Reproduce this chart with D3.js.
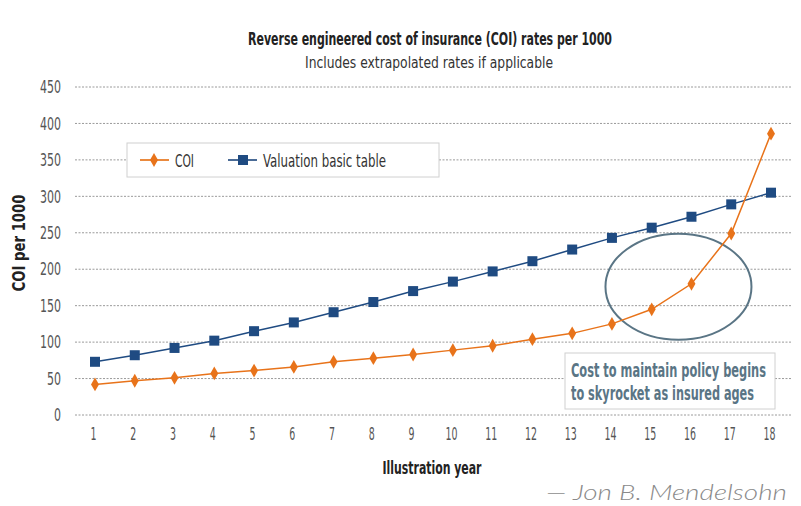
<!DOCTYPE html>
<html>
<head>
<meta charset="utf-8">
<script src="https://cdn.jsdelivr.net/npm/d3@7"></script>
<style>
  body { margin: 0; background: #fff; }
  svg text { font-family: "DejaVu Sans Condensed", "Liberation Sans Narrow", sans-serif; }
</style>
</head>
<body>
<svg id="chart"></svg>
<script>
// data
const years = [1, 2, 3, 4, 5, 6, 7, 8, 9, 10, 11, 12, 13, 14, 15, 16, 17, 18]
const coi = [42, 47, 51, 57, 61, 66, 73, 78, 83, 89, 95, 104, 112, 125, 145, 180, 249, 386]
const valuation = [73, 82, 92, 102, 115, 127, 141, 155, 170, 183, 197, 211, 227, 243, 257, 272, 289, 305]
const yTicks = [0, 50, 100, 150, 200, 250, 300, 350, 400, 450]

const svgWidth = 801, svgHeight = 506
const orange = "#e8731a", navy = "#1f4b82", slate = "#5a7585"

const svg = d3.select("#chart")
    .attr("width", svgWidth)
    .attr("height", svgHeight)

// squeeze text to the narrow width of the original font
function fit(sel, w) {
  return sel.attr("textLength", w).attr("lengthAdjust", "spacingAndGlyphs")
}

const x = d3.scalePoint()
    .domain(years)
    .range([95, 771])

const y = d3.scaleLinear()
    .domain([0, 450])
    .range([415, 87])

// title
fit(svg.append("text")
    .attr("x", 248).attr("y", 45)
    .attr("font-size", 18).attr("font-weight", "bold")
    .attr("fill", "#222")
    .text("Reverse engineered cost of insurance (COI) rates per 1000"), 364)

fit(svg.append("text")
    .attr("x", 305).attr("y", 68)
    .attr("font-size", 16)
    .attr("fill", "#333")
    .text("Includes extrapolated rates if applicable"), 248)

// grid lines
svg.append("g")
    .selectAll("line")
    .data(yTicks)
    .join("line")
    .attr("x1", 75).attr("x2", 792)
    .attr("y1", d => y(d)).attr("y2", d => y(d))
    .attr("stroke", "#9a9a9a")
    .attr("stroke-width", 1)
    .attr("stroke-dasharray", "2,1.5")

// y axis labels
const yAxis = svg.append("g")
    .attr("transform", "translate(61,0)")
    .call(d3.axisLeft(y).tickValues(yTicks).tickSize(0).tickPadding(0))
yAxis.select(".domain").remove()
yAxis.selectAll("text")
    .attr("font-size", 18)
    .attr("fill", "#555")
    .attr("textLength", d => String(d).length * 7)
    .attr("lengthAdjust", "spacingAndGlyphs")
    .style("font-family", "'DejaVu Sans Condensed', sans-serif")

// x axis labels
const xAxis = svg.append("g")
    .attr("transform", "translate(-2,424)")
    .call(d3.axisBottom(x).tickSize(0).tickPadding(0))
xAxis.select(".domain").remove()
xAxis.selectAll("text")
    .attr("dy", "0.9em")
    .attr("font-size", 18)
    .attr("fill", "#555")
    .attr("textLength", d => String(d).length * 6)
    .attr("lengthAdjust", "spacingAndGlyphs")
    .style("font-family", "'DejaVu Sans Condensed', sans-serif")

// axis titles
fit(svg.append("text")
    .attr("transform", "translate(25,243) rotate(-90)")
    .attr("text-anchor", "middle")
    .attr("font-size", 18).attr("font-weight", "bold")
    .attr("fill", "#222")
    .text("COI per 1000"), 97)

fit(svg.append("text")
    .attr("x", 432).attr("y", 474)
    .attr("text-anchor", "middle")
    .attr("font-size", 18).attr("font-weight", "bold")
    .attr("fill", "#222")
    .text("Illustration year"), 99)

// ellipse highlight
svg.append("ellipse")
    .attr("cx", x(16) - 13).attr("cy", y(176))
    .attr("rx", 73).attr("ry", 53)
    .attr("fill", "none")
    .attr("stroke", slate)
    .attr("stroke-width", 2)

// lines
const line = d3.line()
    .x((d, i) => x(years[i]))
    .y(d => y(d))

svg.append("path")
    .datum(valuation)
    .attr("fill", "none")
    .attr("stroke", navy)
    .attr("stroke-width", 1.5)
    .attr("d", line)

svg.append("g")
    .selectAll("rect")
    .data(valuation)
    .join("rect")
    .attr("x", (d, i) => x(years[i]) - 5)
    .attr("y", d => y(d) - 5)
    .attr("width", 10).attr("height", 10)
    .attr("fill", navy)

svg.append("path")
    .datum(coi)
    .attr("fill", "none")
    .attr("stroke", orange)
    .attr("stroke-width", 1.5)
    .attr("d", line)

const diamond = d3.symbol().type(d3.symbolDiamond).size(55)
svg.append("g")
    .selectAll("path")
    .data(coi)
    .join("path")
    .attr("transform", (d, i) => "translate(" + x(years[i]) + "," + y(d) + ")")
    .attr("d", diamond)
    .attr("fill", orange)

// legend
const legend = svg.append("g").attr("transform", "translate(127,143)")
legend.append("rect")
    .attr("width", 312).attr("height", 34)
    .attr("fill", "#fff")
    .attr("stroke", "#d0d0d0")
legend.append("line")
    .attr("x1", 13).attr("x2", 42).attr("y1", 17).attr("y2", 17)
    .attr("stroke", "#ea8a3e").attr("stroke-width", 2)
legend.append("path")
    .attr("transform", "translate(27,17)")
    .attr("d", diamond)
    .attr("fill", orange)
fit(legend.append("text")
    .attr("x", 48).attr("y", 24)
    .attr("font-size", 18).attr("fill", "#333")
    .text("COI"), 19)
legend.append("line")
    .attr("x1", 101).attr("x2", 130).attr("y1", 17).attr("y2", 17)
    .attr("stroke", "#4a6b96").attr("stroke-width", 2)
legend.append("rect")
    .attr("x", 111).attr("y", 12).attr("width", 10).attr("height", 10)
    .attr("fill", navy)
fit(legend.append("text")
    .attr("x", 136).attr("y", 24)
    .attr("font-size", 18).attr("fill", "#333")
    .text("Valuation basic table"), 123)

// annotation box
const note = svg.append("g").attr("transform", "translate(565,353)")
note.append("rect")
    .attr("width", 210).attr("height", 56)
    .attr("fill", "#fff")
    .attr("stroke", "#d0d0d0")
fit(note.append("text")
    .attr("x", 6).attr("y", 24)
    .attr("font-size", 20).attr("font-weight", "bold")
    .attr("fill", slate)
    .text("Cost to maintain policy begins"), 195)
fit(note.append("text")
    .attr("x", 6).attr("y", 47)
    .attr("font-size", 20).attr("font-weight", "bold")
    .attr("fill", slate)
    .text("to skyrocket as insured ages"), 183)

// signature
fit(svg.append("text")
    .attr("x", 546).attr("y", 500)
    .attr("font-size", 22).attr("font-style", "italic")
    .attr("fill", "#8a8a8a")
    .style("font-family", "Lato, 'Open Sans', sans-serif")
    .style("font-weight", 300)
    .text("— Jon B. Mendelsohn"), 241)
</script>
</body>
</html>
